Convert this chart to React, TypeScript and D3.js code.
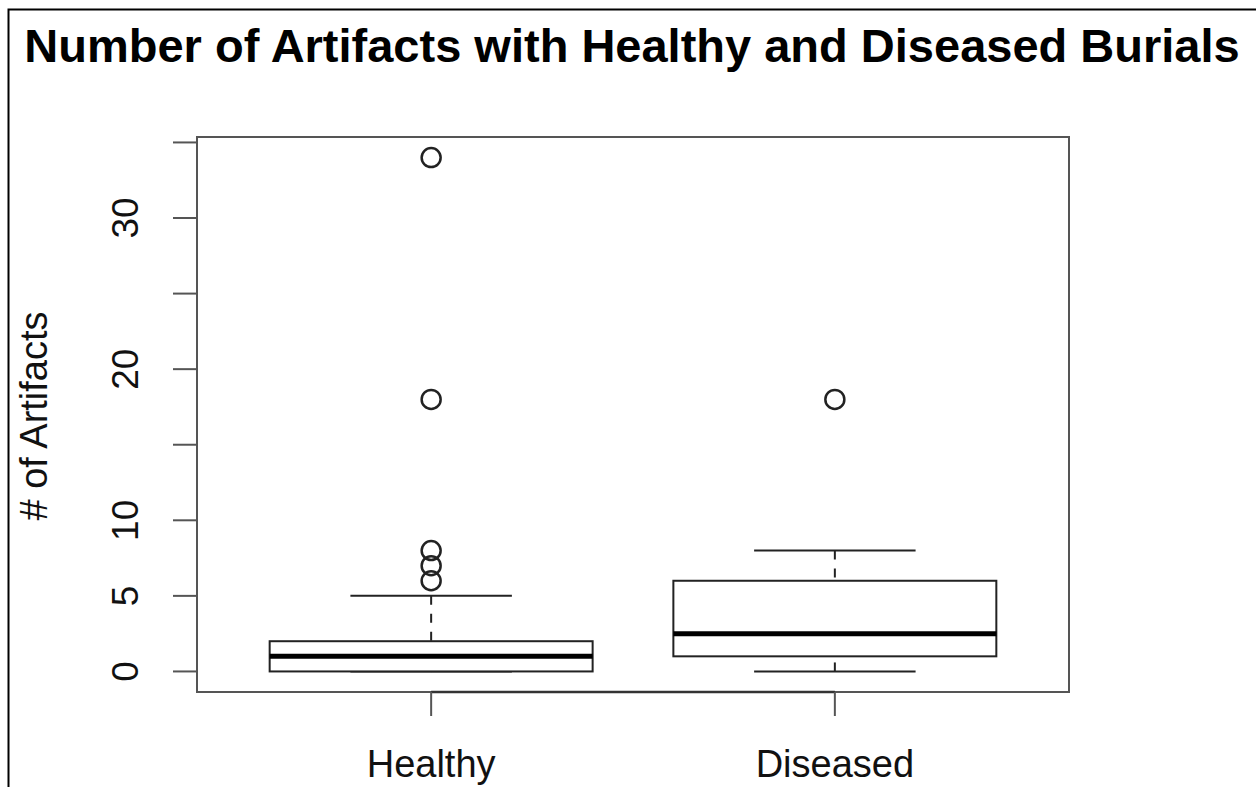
import React from "react";
import * as d3 from "d3";

const categories = ["Healthy", "Diseased"];
const lowerWhisker = [0, 0];
const q1 = [0, 1];
const median = [1, 2.5];
const q3 = [2, 6];
const upperWhisker = [5, 8];
const outliersHealthy = [6, 7, 8, 18, 34];
const outliersDiseased = [18];
const outliers = [outliersHealthy, outliersDiseased];
const yTicks = [0, 5, 10, 15, 20, 25, 30, 35];
const yTickLabels = [0, 5, 10, 20, 30];
const title = "Number of Artifacts with Healthy and Diseased Burials";
const yLabel = "# of Artifacts";

export default function App() {
  const W = 1256, H = 787;
  const left = 197, right = 1069, top = 137, bottom = 692;
  const x = d3.scaleLinear().domain([0.42, 2.58]).range([left, right]);
  const y = d3.scaleLinear().domain([-1.36, 35.36]).range([bottom, top]);
  const boxHalf = x(0.4) - x(0);
  const capHalf = x(0.2) - x(0);
  const font = "'Liberation Sans', Arial, Helvetica, sans-serif";
  const boxColor = "#222";
  const axisColor = "#555";

  return (
    <svg width={W} height={H} style={{ position: "absolute", left: 0, top: 0, background: "#fff" }}>
      <rect x={8.5} y={9.5} width={W + 20} height={H + 20} fill="#fff" stroke="#000" strokeWidth={2} />
      <text x={632} y={62} textAnchor="middle" fontFamily={font} fontWeight="bold" fontSize={47} fill="#000">
        {title}
      </text>
      {/* plot frame */}
      <rect x={left} y={top} width={right - left} height={bottom - top} fill="none" stroke={axisColor} strokeWidth={2} />
      {/* y axis */}
      <line x1={left} x2={left} y1={y(yTicks[0])} y2={y(yTicks[yTicks.length - 1])} stroke={axisColor} strokeWidth={2} />
      {yTicks.map((t) => (
        <line key={t} x1={left - 24} x2={left} y1={y(t)} y2={y(t)} stroke={axisColor} strokeWidth={2} />
      ))}
      {yTickLabels.map((t) => (
        <text
          key={t}
          transform={`translate(${138},${y(t)}) rotate(-90)`}
          textAnchor="middle"
          fontFamily={font}
          fontSize={37}
          fill="#111"
        >
          {t}
        </text>
      ))}
      <text
        transform={`translate(${47},${416}) rotate(-90)`}
        textAnchor="middle"
        fontFamily={font}
        fontSize={38}
        fill="#111"
      >
        {yLabel}
      </text>
      {/* x axis */}
      <line x1={x(1)} x2={x(categories.length)} y1={bottom} y2={bottom} stroke="#333" strokeWidth={2.5} />
      {categories.map((c, i) => (
        <g key={c}>
          <line x1={x(i + 1)} x2={x(i + 1)} y1={bottom} y2={bottom + 24} stroke={axisColor} strokeWidth={2} />
          <text x={x(i + 1)} y={777} textAnchor="middle" fontFamily={font} fontSize={38} fill="#111">
            {c}
          </text>
        </g>
      ))}
      {/* boxes */}
      {categories.map((c, i) => {
        const cx = x(i + 1);
        return (
          <g key={c}>
            <line x1={cx} x2={cx} y1={y(upperWhisker[i])} y2={y(q3[i])} stroke={boxColor} strokeWidth={2} strokeDasharray="9,9" />
            <line x1={cx} x2={cx} y1={y(lowerWhisker[i])} y2={y(q1[i])} stroke={boxColor} strokeWidth={2} strokeDasharray="9,9" />
            <line x1={cx - capHalf} x2={cx + capHalf} y1={y(upperWhisker[i])} y2={y(upperWhisker[i])} stroke={boxColor} strokeWidth={2} />
            <line x1={cx - capHalf} x2={cx + capHalf} y1={y(lowerWhisker[i])} y2={y(lowerWhisker[i])} stroke={boxColor} strokeWidth={2} />
            <rect x={cx - boxHalf} y={y(q3[i])} width={2 * boxHalf} height={y(q1[i]) - y(q3[i])} fill="#fff" stroke={boxColor} strokeWidth={2} />
            <line x1={cx - boxHalf} x2={cx + boxHalf} y1={y(median[i])} y2={y(median[i])} stroke="#000" strokeWidth={5} />
            {outliers[i].map((v, j) => (
              <circle key={j} cx={cx} cy={y(v)} r={9.5} fill="none" stroke={boxColor} strokeWidth={2.5} />
            ))}
          </g>
        );
      })}
    </svg>
  );
}
